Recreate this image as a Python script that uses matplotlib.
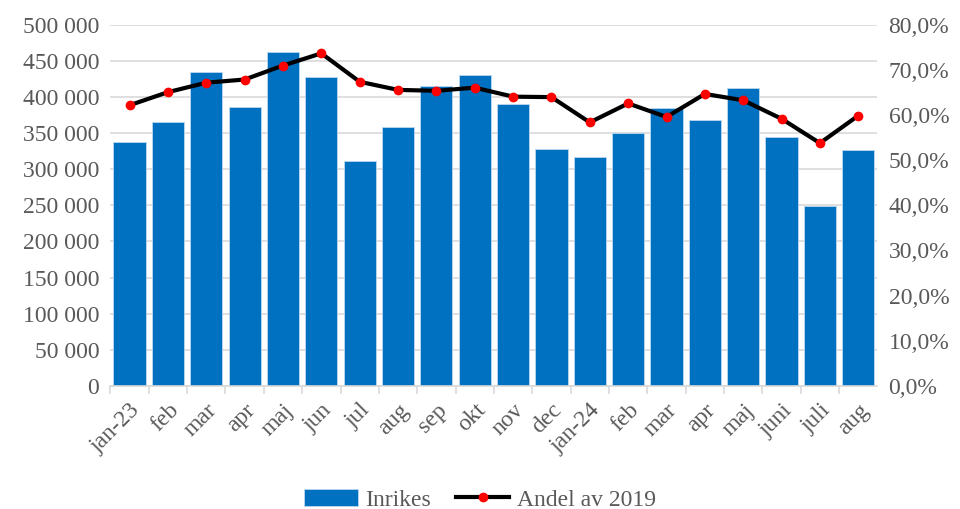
import numpy as np
import matplotlib
matplotlib.use("Agg")
import matplotlib.pyplot as plt
from matplotlib.ticker import FuncFormatter, MultipleLocator

plt.rcParams['font.family'] = ['Liberation Serif', 'DejaVu Serif']

months = ['jan-23', 'feb', 'mar', 'apr', 'maj', 'jun', 'jul', 'aug', 'sep', 'okt',
          'nov', 'dec', 'jan-24', 'feb', 'mar', 'apr', 'maj', 'juni', 'juli', 'aug']
inrikes = [337500, 365200, 434500, 386000, 462600, 428400, 311600, 358300, 416000, 430700,
           390600, 328300, 316700, 350900, 385000, 368400, 412300, 344400, 248900, 326900]
andel = [62.2, 65.1, 67.2, 67.9, 71.0, 73.7, 67.4, 65.6, 65.4, 66.1,
         64.1, 64.0, 58.4, 62.6, 59.6, 64.7, 63.3, 59.2, 53.8, 59.9]

grey = '#595959'
fig, ax = plt.subplots(figsize=(9.6, 5.09), dpi=100)
fig.subplots_adjust(left=0.115, right=0.914, top=0.951, bottom=0.242)

x = np.arange(len(months))
bars = ax.bar(x, inrikes, width=0.84, color='#0070C0', edgecolor='#bdd7ee',
              linewidth=0.6, label='Inrikes', zorder=2)
ax.set_xlim(-0.5, len(months) - 0.5)
ax.set_ylim(0, 500000)
ax.yaxis.set_major_locator(MultipleLocator(50000))
ax.yaxis.set_major_formatter(FuncFormatter(lambda v, p: f'{int(v):,}'.replace(',', ' ')))
ax.grid(axis='y', color='#d9d9d9', linewidth=1.2, zorder=0)
ax.set_axisbelow(True)
for s in ['top', 'right', 'left']:
    ax.spines[s].set_visible(False)
ax.spines['bottom'].set_color('#d9d9d9')
ax.spines['bottom'].set_linewidth(1.2)
ax.set_xticks(x - 0.5, minor=True)
ax.set_xticks(x)
ax.set_xticklabels(months, rotation=45, ha='right', rotation_mode='anchor')
ax.tick_params(axis='x', which='major', length=0, pad=10, labelsize=17, labelcolor=grey)
ax.tick_params(axis='x', which='minor', length=6, color='#d9d9d9', width=1.2)
ax.tick_params(axis='y', length=0, labelsize=17, labelcolor=grey, pad=8)

ax2 = ax.twinx()
line, = ax2.plot(x, andel, color='black', linewidth=3, marker='o', markersize=6,
                 markerfacecolor='red', markeredgecolor='red', label='Andel av 2019', zorder=3)
ax2.set_ylim(0, 80)
ax2.yaxis.set_major_locator(MultipleLocator(10))
ax2.yaxis.set_major_formatter(FuncFormatter(lambda v, p: f'{v:.1f}%'.replace('.', ',')))
ax2.tick_params(axis='y', length=0, labelsize=17, labelcolor=grey, pad=8)
for s in ax2.spines.values():
    s.set_visible(False)

fig.legend([bars, line], ['Inrikes', 'Andel av 2019'], loc='lower center',
           bbox_to_anchor=(0.5, -0.045), ncol=2, frameon=False, fontsize=17,
           labelcolor=grey, handlelength=2.25, columnspacing=1.1, handletextpad=0.3)

fig.savefig('out.png', dpi=100)
